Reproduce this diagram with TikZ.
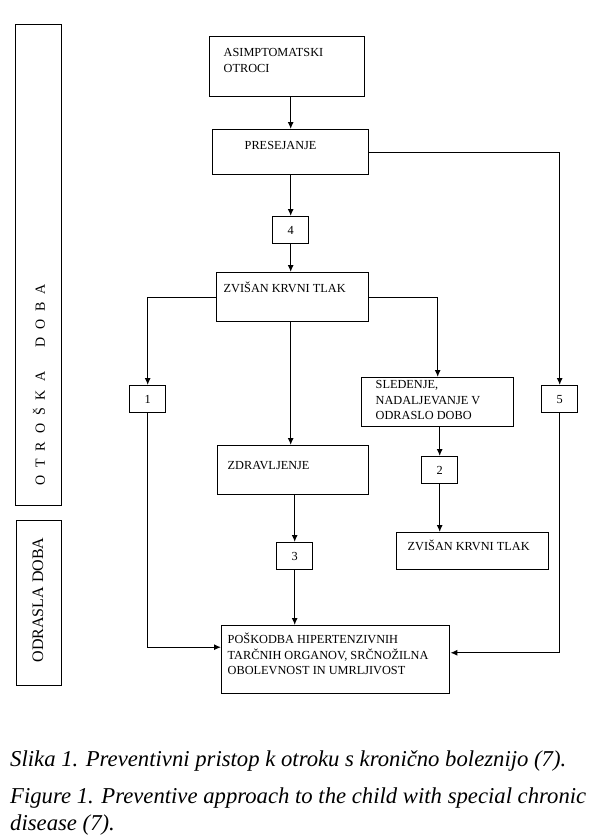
\documentclass[tikz,border=0pt]{standalone}
\usepackage{fontspec}
\setmainfont{Liberation Serif}
\usetikzlibrary{arrows.meta,calc,positioning}
\tikzset{>={Latex[length=7pt,width=6pt]}}
\tikzset{
  box/.style={draw, line width=1.4pt, anchor=north west, inner sep=0pt,
    font=\fontsize{12.3}{15.5}\selectfont},
  numbox/.style={draw, line width=1.4pt, anchor=north west, inner sep=0pt,
    minimum width=36pt, minimum height=27pt, font=\fontsize{12.3}{15.5}\selectfont},
  agebox/.style={draw, line width=1.4pt, anchor=north west, inner sep=0pt},
  agetext/.style={rotate=90, inner sep=0pt},
  flow/.style={->, line width=1.2pt},
  caption/.style={anchor=base west, inner sep=0pt, align=left,
    font=\fontsize{22.7}{27}\selectfont\itshape},
}
% width, height, left inset, first baseline, text
\newcommand{\boxtext}[5]{\parbox[t][#2][t]{#1}{\raggedright\leftskip=#3\relax
  \vspace*{\dimexpr#4-0.7\baselineskip\relax}\strut#5\par}}
\newcommand{\gap}{\hspace{8pt}}

\begin{document}
\begin{tikzpicture}[x=1pt, y=-1pt]
  \useasboundingbox (0,0) rectangle (600,838);%
  % age columns
  \node[agebox, minimum width=46pt, minimum height=481pt] (childhood) at (15,24) {};%
  \node[agetext, font=\fontsize{14}{16}\selectfont] (childtxt) at (39,385)
    {O\gap T\gap R\gap O\gap Š\gap K\gap A\gap\gap\gap D\gap O\gap B\gap A};%
  \node[agebox, minimum width=45pt, minimum height=165pt] (adulthood) at (16,520) {};%
  \node[agetext, font=\fontsize{16}{18}\selectfont] (adulttxt) at (38,600) {ODRASLA DOBA};%
  % flow boxes
  \node[box] (asim) at (209,36) {\boxtext{155pt}{60pt}{14pt}{20pt}{ASIMPTOMATSKI\\OTROCI}};%
  \node[box] (pres) at (212,129) {\boxtext{156pt}{45pt}{32pt}{20pt}{PRESEJANJE}};%
  \node[numbox] (four) at (272,216) {4};%
  \node[box] (zvisan) at (216,272) {\boxtext{152pt}{49pt}{7pt}{20pt}{ZVIŠAN KRVNI TLAK}};%
  \node[numbox] (one) at (129,385) {1};%
  \node[box] (sled) at (361,377) {\boxtext{152pt}{49pt}{14pt}{11pt}{SLEDENJE,\\NADALJEVANJE V\\ODRASLO DOBO}};%
  \node[numbox] (five) at (541,385) {5};%
  \node[box] (zdrav) at (217,445) {\boxtext{151pt}{49pt}{10pt}{24pt}{ZDRAVLJENJE}};%
  \node[numbox] (two) at (421,456) {2};%
  \node[box] (zvisantwo) at (396,532) {\boxtext{152pt}{37pt}{11pt}{18pt}{ZVIŠAN KRVNI TLAK}};%
  \node[numbox] (three) at (276,542) {3};%
  \node[box] (posk) at (221,625) {\boxtext{228pt}{68pt}{6pt}{18pt}{POŠKODBA HIPERTENZIVNIH\\TARČNIH ORGANOV, SRČNOŽILNA\\OBOLEVNOST IN UMRLJIVOST}};%
  % connectors
  \draw[flow] (pres.north |- asim.south) -- (pres.north);%
  \draw[flow] (four.north |- pres.south) -- (four.north);%
  \draw[flow] (four.south) -- (four.south |- zvisan.north);%
  \draw[flow] (pres.east) -| (five.north);%
  \draw[flow] (zvisan.west) -| (one.north);%
  \draw[flow] (zvisan.east) -| (sled.north);%
  \draw[flow] (four.south |- zvisan.south) -- (four.south |- zdrav.north);%
  \draw[flow] (two.north |- sled.south) -- (two.north);%
  \draw[flow] (two.south) -- (two.south |- zvisantwo.north);%
  \draw[flow] (three.north |- zdrav.south) -- (three.north);%
  \draw[flow] (three.south) -- (three.south |- posk.north);%
  \draw[flow] (one.south) |- ($(posk.north west)!0.32!(posk.south west)$);%
  \draw[flow] (five.south) |- ($(posk.north east)!0.4!(posk.south east)$);%
  % caption
  \node[caption] (capsl) at (10,766) {Slika 1. Preventivni pristop k otroku s kronično boleznijo (7).};%
  \node[caption] (capen) at (10,830) {Figure 1. Preventive approach to the child with special chronic\\disease (7).};%
\end{tikzpicture}
\end{document}
